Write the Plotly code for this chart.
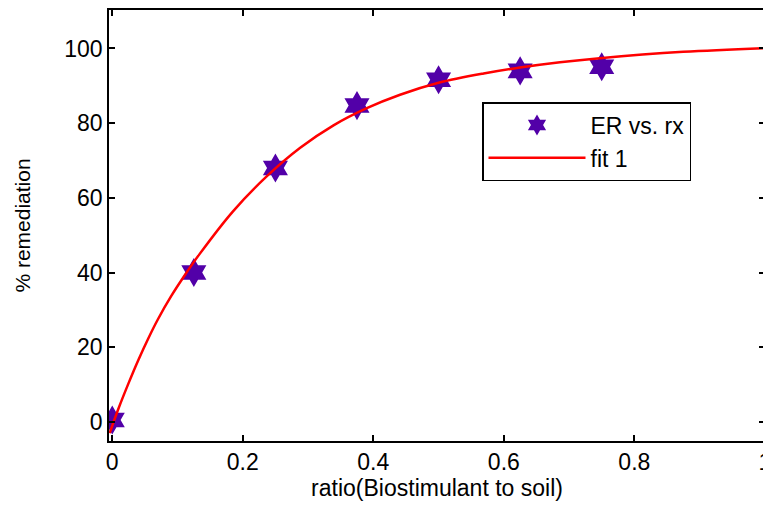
import plotly.graph_objects as go

# Data
ratio = [0, 0.125, 0.25, 0.375, 0.5, 0.625, 0.75]
remediation = [0.5, 40.0, 68.0, 84.7, 91.6, 94.0, 95.1]

fit_x = [-0.004, 0.010, 0.025, 0.040, 0.055, 0.070, 0.090, 0.110, 0.134,
         0.185, 0.237, 0.288, 0.339, 0.390, 0.441, 0.500, 0.569, 0.625,
         0.686, 0.747, 0.875, 1.0]
fit_y = [-3.0, 3.8, 10.4, 16.6, 22.3, 27.5, 33.6, 39.0, 45.0,
         56.4, 65.8, 73.4, 79.4, 84.0, 87.6, 90.8, 93.3, 94.9,
         96.3, 97.4, 99.1, 100.1]

x_ticks = [0, 0.2, 0.4, 0.6, 0.8, 1]
x_tick_text = ["0", "0.2", "0.4", "0.6", "0.8", "1"]
y_ticks = [0, 20, 40, 60, 80, 100]

FONT = "Liberation Sans, Arial, sans-serif"

fig = go.Figure()
fig.add_trace(go.Scatter(
    x=ratio, y=remediation, mode="markers", name="ER vs. rx",
    marker=dict(symbol="hexagram", size=22, color="#5200A8",
                line=dict(width=0)),
))
fig.add_trace(go.Scatter(
    x=fit_x, y=fit_y, mode="lines", name="fit 1",
    line=dict(color="#FF0000", width=2.5, shape="spline"),
))

# The reference figure is cropped on the right: the plot box extends
# slightly past the 763px window, so the right axis line is hidden.
fig.update_layout(
    width=765, height=506,
    margin=dict(l=109, r=0, t=10, b=65, autoexpand=False),
    paper_bgcolor="white", plot_bgcolor="white",
    font=dict(family=FONT, size=23, color="black"),
    showlegend=True,
    legend=dict(
        x=0.5686, y=0.7865, xanchor="left", yanchor="top",
        bgcolor="white", bordercolor="black", borderwidth=1.5,
        font=dict(family=FONT, size=23, color="black"),
        itemwidth=97, tracegroupgap=0,
    ),
)
fig.update_xaxes(
    range=[-0.005, 1.0002], automargin=False,
    tickvals=x_ticks, ticktext=x_tick_text, ticklabeloverflow="allow",
    ticks="inside", ticklen=6, tickwidth=1.5, tickcolor="black",
    showline=True, linecolor="black", linewidth=1.5, mirror="ticks",
    showgrid=False, zeroline=False,
    title=dict(text="ratio(Biostimulant to soil)", standoff=4,
               font=dict(family=FONT, size=23)),
    tickfont=dict(family=FONT, size=23),
)
fig.update_yaxes(
    range=[-5.1, 110.3], automargin=False,
    tickvals=y_ticks,
    ticks="inside", ticklen=6, tickwidth=1.5, tickcolor="black",
    showline=True, linecolor="black", linewidth=1.5, mirror="ticks",
    showgrid=False, zeroline=False,
    title=dict(text="% remediation", standoff=28,
               font=dict(family=FONT, size=21)),
    tickfont=dict(family=FONT, size=23),
)

fig.write_html(
    "out.html",
    config={"displayModeBar": False},
    post_script="document.body.style.margin='0';document.body.style.overflow='hidden';",
)
